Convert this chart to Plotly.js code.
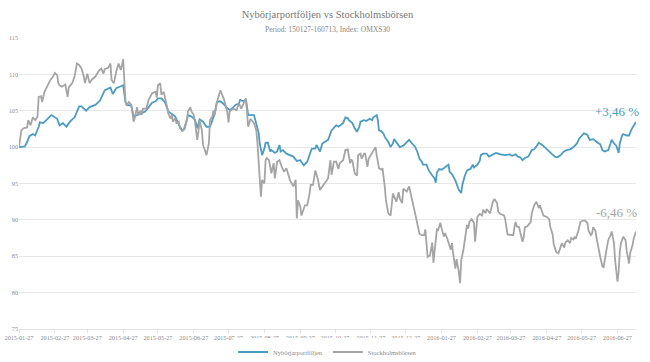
<!DOCTYPE html>
<html>
<head>
<meta charset="utf-8">
<script src="https://cdn.plot.ly/plotly-3.0.1.min.js"></script>
<style>html,body{margin:0;padding:0;background:#fff;}#chart{width:650px;height:362px;}</style>
</head>
<body>
<div id="chart"></div>
<script>
// ---- Data ----
const seriesNames = ['Nybörjarportföljen', 'Stockholmsbörsen'];
const endLabels = ['+3,46 %', '-6,46 %'];
const tickDates = [
'2015-01-27','2015-02-27','2015-03-27','2015-04-27','2015-05-27','2015-06-27','2015-07-27','2015-08-27','2015-09-27',
'2015-10-27','2015-11-27','2015-12-27','2016-01-27','2016-02-27','2016-03-27','2016-04-27','2016-05-27','2016-06-27'
];

const portfolioDates = [
'2015-01-27','2015-02-01','2015-02-03','2015-02-05','2015-02-08','2015-02-10','2015-02-13','2015-02-14','2015-02-17','2015-02-20',
'2015-02-24','2015-03-01','2015-03-03','2015-03-06','2015-03-09','2015-03-12','2015-03-16','2015-03-20','2015-03-22','2015-03-26',
'2015-03-29','2015-04-03','2015-04-07','2015-04-11','2015-04-16','2015-04-18','2015-04-21','2015-04-24','2015-04-27','2015-04-29',
'2015-04-30','2015-05-04','2015-05-06','2015-05-12','2015-05-16','2015-05-19','2015-05-22','2015-05-25','2015-05-27','2015-05-30',
'2015-06-02','2015-06-05','2015-06-08','2015-06-11','2015-06-15','2015-06-17','2015-06-19','2015-06-22','2015-06-25','2015-06-28',
'2015-06-30','2015-07-02','2015-07-05','2015-07-08','2015-07-11','2015-07-13','2015-07-15','2015-07-17','2015-07-20','2015-07-23',
'2015-07-25','2015-07-28','2015-07-30','2015-08-02','2015-08-05','2015-08-06','2015-08-09','2015-08-11','2015-08-13','2015-08-18',
'2015-08-20','2015-08-22','2015-08-23','2015-08-25','2015-08-27','2015-08-28','2015-08-30','2015-09-01','2015-09-02','2015-09-05',
'2015-09-07','2015-09-09','2015-09-10','2015-09-12','2015-09-15','2015-09-18','2015-09-21','2015-09-24','2015-09-27','2015-09-30',
'2015-10-03','2015-10-06','2015-10-07','2015-10-10','2015-10-11','2015-10-14','2015-10-16','2015-10-18','2015-10-21','2015-10-24',
'2015-10-26','2015-10-28','2015-10-30','2015-11-01','2015-11-03','2015-11-05','2015-11-07','2015-11-08','2015-11-10','2015-11-11',
'2015-11-13','2015-11-15','2015-11-17','2015-11-18','2015-11-21','2015-11-23','2015-11-26','2015-11-28','2015-11-29','2015-12-02',
'2015-12-03','2015-12-04','2015-12-06','2015-12-08','2015-12-09','2015-12-12','2015-12-14','2015-12-16','2015-12-17','2015-12-19',
'2015-12-22','2015-12-25','2015-12-27','2015-12-30','2016-01-01','2016-01-04','2016-01-06','2016-01-08','2016-01-10','2016-01-11',
'2016-01-14','2016-01-16','2016-01-19','2016-01-21','2016-01-22','2016-01-23','2016-01-25','2016-01-27','2016-01-29','2016-02-01',
'2016-02-02','2016-02-03','2016-02-05','2016-02-08','2016-02-10','2016-02-11','2016-02-13','2016-02-14','2016-02-16','2016-02-18',
'2016-02-21','2016-02-23','2016-02-24','2016-02-27','2016-02-29','2016-03-01','2016-03-03','2016-03-06','2016-03-08','2016-03-11',
'2016-03-14','2016-03-18','2016-03-22','2016-03-26','2016-03-28','2016-03-31','2016-04-02','2016-04-04','2016-04-06','2016-04-08',
'2016-04-11','2016-04-14','2016-04-16','2016-04-18','2016-04-20','2016-04-23','2016-04-26','2016-04-28','2016-05-01','2016-05-04',
'2016-05-06','2016-05-09','2016-05-11','2016-05-14','2016-05-17','2016-05-20','2016-05-23','2016-05-25','2016-05-27','2016-05-29',
'2016-06-01','2016-06-03','2016-06-06','2016-06-08','2016-06-10','2016-06-12','2016-06-14','2016-06-16','2016-06-19','2016-06-21',
'2016-06-22','2016-06-24','2016-06-26','2016-06-28','2016-06-29','2016-07-01','2016-07-02','2016-07-05','2016-07-07','2016-07-09',
'2016-07-12','2016-07-13'
];
const portfolioValues = [
100.0,100.1,100.7,101.5,101.8,101.6,102.8,103.4,103.3,103.8,
104.4,103.9,103.0,103.3,102.8,103.5,104.1,105.6,105.6,105.0,
105.5,105.8,106.4,107.8,108.2,107.3,108.1,108.3,108.5,106.2,
105.8,105.7,104.2,104.6,104.9,105.5,106.1,106.3,106.7,106.7,
106.2,104.9,104.6,104.2,102.8,102.3,102.5,104.4,104.2,103.8,
102.6,103.8,103.5,102.8,102.8,103.7,104.6,106.2,106.3,105.9,
105.5,105.1,105.3,105.8,106.0,106.5,106.3,106.6,104.4,104.4,
103.3,102.0,100.5,98.9,99.8,100.6,100.6,99.4,99.6,99.2,
99.4,100.3,99.4,99.6,99.1,98.9,98.7,98.1,98.2,97.5,
98.0,99.4,99.8,99.8,100.3,99.4,100.5,100.7,101.0,102.3,
102.6,103.0,102.8,103.1,103.3,104.1,104.0,103.7,103.4,103.3,
102.6,102.1,102.8,103.5,103.7,103.6,103.9,103.7,104.1,104.4,
103.7,102.3,102.2,101.8,101.4,100.7,100.0,100.5,101.1,100.7,
100.0,100.2,100.5,101.0,100.6,100.1,99.4,98.4,98.0,97.6,
97.6,96.8,96.1,95.7,95.1,96.5,97.0,96.9,97.1,97.4,
97.6,96.6,96.3,95.4,94.5,94.1,93.7,94.8,96.0,96.8,
97.0,97.6,97.2,97.6,98.1,98.9,99.1,99.1,98.7,98.9,
99.2,99.0,98.9,99.0,98.8,99.0,98.7,98.6,98.2,98.5,
98.7,99.6,99.7,100.1,100.6,100.3,99.8,99.6,99.1,98.7,
98.6,98.9,99.3,99.6,99.7,100.0,100.5,101.2,101.5,101.9,
101.7,101.0,101.1,100.8,100.6,100.4,99.6,99.4,99.6,100.5,
101.0,100.5,100.2,99.2,100.5,101.6,101.8,101.6,101.6,102.4,
103.3,103.46
];

const indexDates = [
'2015-01-27','2015-01-29','2015-01-31','2015-02-03','2015-02-04','2015-02-06','2015-02-08','2015-02-10','2015-02-12','2015-02-13',
'2015-02-15','2015-02-16','2015-02-18','2015-02-20','2015-02-23','2015-02-25','2015-02-27','2015-03-01','2015-03-02','2015-03-03',
'2015-03-05','2015-03-08','2015-03-10','2015-03-11','2015-03-14','2015-03-16','2015-03-18','2015-03-20','2015-03-22','2015-03-24',
'2015-03-25','2015-03-27','2015-03-29','2015-03-31','2015-04-03','2015-04-06','2015-04-08','2015-04-10','2015-04-11','2015-04-14',
'2015-04-16','2015-04-17','2015-04-19','2015-04-21','2015-04-23','2015-04-25','2015-04-27','2015-04-29','2015-04-30','2015-05-02',
'2015-05-03','2015-05-04','2015-05-06','2015-05-07','2015-05-09','2015-05-10','2015-05-12','2015-05-13','2015-05-14','2015-05-17',
'2015-05-19','2015-05-22','2015-05-25','2015-05-26','2015-05-27','2015-05-29','2015-05-30','2015-06-01','2015-06-04','2015-06-05',
'2015-06-07','2015-06-08','2015-06-09','2015-06-11','2015-06-12','2015-06-14','2015-06-15','2015-06-17','2015-06-18','2015-06-20',
'2015-06-21','2015-06-22','2015-06-24','2015-06-25','2015-06-27','2015-06-28','2015-06-30','2015-07-01','2015-07-02','2015-07-04',
'2015-07-05','2015-07-08','2015-07-10','2015-07-11','2015-07-13','2015-07-14','2015-07-15','2015-07-17','2015-07-20','2015-07-21',
'2015-07-23','2015-07-26','2015-07-27','2015-07-28','2015-07-31','2015-08-03','2015-08-05','2015-08-07','2015-08-10','2015-08-11',
'2015-08-13','2015-08-15','2015-08-18','2015-08-20','2015-08-21','2015-08-23','2015-08-24','2015-08-25','2015-08-27','2015-08-28',
'2015-08-29','2015-08-31','2015-09-02','2015-09-04','2015-09-05','2015-09-07','2015-09-09','2015-09-11','2015-09-13','2015-09-15',
'2015-09-18','2015-09-21','2015-09-23','2015-09-24','2015-09-25','2015-09-27','2015-09-28','2015-10-01','2015-10-03','2015-10-05',
'2015-10-06','2015-10-08','2015-10-10','2015-10-12','2015-10-14','2015-10-16','2015-10-18','2015-10-21','2015-10-23','2015-10-24',
'2015-10-26','2015-10-28','2015-10-30','2015-10-31','2015-11-03','2015-11-05','2015-11-07','2015-11-09','2015-11-10','2015-11-11',
'2015-11-13','2015-11-15','2015-11-16','2015-11-18','2015-11-19','2015-11-21','2015-11-22','2015-11-24','2015-11-25','2015-11-27',
'2015-11-29','2015-12-01','2015-12-02','2015-12-04','2015-12-06','2015-12-07','2015-12-09','2015-12-10','2015-12-12','2015-12-14',
'2015-12-16','2015-12-18','2015-12-19','2015-12-21','2015-12-22','2015-12-24','2015-12-25','2015-12-28','2015-12-30','2015-12-31',
'2016-01-02','2016-01-04','2016-01-06','2016-01-08','2016-01-10','2016-01-12','2016-01-13','2016-01-15','2016-01-17','2016-01-19',
'2016-01-20','2016-01-22','2016-01-23','2016-01-24','2016-01-26','2016-01-27','2016-01-29','2016-01-30','2016-02-01','2016-02-04',
'2016-02-05','2016-02-06','2016-02-08','2016-02-09','2016-02-11','2016-02-12','2016-02-13','2016-02-15','2016-02-16','2016-02-18',
'2016-02-19','2016-02-20','2016-02-22','2016-02-24','2016-02-25','2016-02-26','2016-02-27','2016-02-29','2016-03-02','2016-03-03',
'2016-03-05','2016-03-06','2016-03-08','2016-03-09','2016-03-11','2016-03-12','2016-03-13','2016-03-15','2016-03-16','2016-03-18',
'2016-03-21','2016-03-22','2016-03-24','2016-03-26','2016-03-29','2016-03-30','2016-03-31','2016-04-01','2016-04-03','2016-04-04',
'2016-04-06','2016-04-07','2016-04-08','2016-04-10','2016-04-13','2016-04-14','2016-04-16','2016-04-18','2016-04-20','2016-04-21',
'2016-04-23','2016-04-24','2016-04-27','2016-04-29','2016-04-30','2016-05-02','2016-05-03','2016-05-05','2016-05-07','2016-05-09',
'2016-05-10','2016-05-12','2016-05-13','2016-05-15','2016-05-17','2016-05-18','2016-05-20','2016-05-21','2016-05-22','2016-05-24',
'2016-05-26','2016-05-28','2016-05-30','2016-06-01','2016-06-02','2016-06-04','2016-06-05','2016-06-06','2016-06-08','2016-06-09',
'2016-06-11','2016-06-12','2016-06-14','2016-06-15','2016-06-17','2016-06-18','2016-06-19','2016-06-21','2016-06-22','2016-06-24',
'2016-06-25','2016-06-27','2016-06-28','2016-06-29','2016-06-30','2016-07-02','2016-07-04','2016-07-05','2016-07-07','2016-07-08',
'2016-07-10','2016-07-11','2016-07-13'
];
const indexValues = [
100.0,102.3,102.6,102.7,103.7,103.0,104.1,103.7,104.2,106.9,
107.0,106.2,107.6,108.3,109.2,109.6,110.2,109.9,108.8,108.5,
108.3,108.6,106.9,108.2,108.8,109.7,111.5,111.3,110.8,109.7,
108.8,110.1,108.8,109.3,109.7,110.5,110.8,110.1,110.7,110.9,
111.5,109.2,108.8,110.4,111.5,110.6,112.1,106.2,105.8,106.2,
106.0,105.8,103.5,104.0,105.5,104.4,105.0,104.4,105.3,105.3,
106.5,107.4,107.6,106.8,108.5,108.8,107.2,107.6,105.5,104.6,
103.9,104.4,103.5,104.0,103.3,103.5,102.6,102.2,102.3,103.3,
103.7,104.9,105.5,104.9,104.4,103.5,101.0,102.1,103.7,102.3,
100.3,98.9,100.5,103.7,104.2,105.0,104.4,106.2,107.8,107.4,
106.6,104.8,103.4,104.9,105.3,105.1,106.0,105.3,106.5,106.7,
102.8,103.9,103.3,102.3,100.5,96.4,93.2,95.5,95.0,98.2,
98.5,98.2,96.4,97.8,95.7,98.0,98.2,97.3,96.6,97.1,
95.5,94.6,95.5,90.2,92.7,91.8,90.6,92.0,92.0,93.6,
94.8,94.8,96.8,95.7,94.1,94.6,95.0,95.7,98.2,96.2,
98.0,98.0,97.0,97.8,98.2,99.6,99.7,97.8,98.3,98.1,
96.4,96.1,98.9,99.1,98.4,99.1,99.1,97.3,98.4,98.9,
99.5,100.0,98.9,97.1,96.9,97.1,94.5,92.7,90.9,90.6,
93.6,92.9,92.5,93.8,92.9,92.3,94.3,93.9,94.6,93.9,
92.5,91.2,89.5,88.1,87.9,87.9,88.7,84.9,85.1,86.9,
84.1,87.5,88.7,88.6,89.6,88.9,87.7,88.2,87.4,85.9,
86.8,85.4,83.3,84.6,82.8,81.3,84.4,86.0,87.0,89.3,
88.8,89.7,90.1,89.6,87.0,89.0,90.4,90.8,90.6,91.4,
90.9,91.5,91.0,90.9,92.3,92.7,92.8,92.3,91.1,90.8,
90.6,90.1,88.0,88.0,87.9,89.0,89.7,89.1,89.0,88.3,
87.0,87.6,89.0,89.1,89.7,90.9,92.0,92.5,91.6,92.0,
91.0,90.6,90.4,90.1,89.0,88.0,86.6,85.6,85.4,86.3,
86.8,86.2,86.9,87.2,86.8,87.5,87.3,87.7,87.4,88.4,
89.7,89.9,89.9,89.6,88.5,87.9,88.1,89.0,88.5,87.4,
85.6,85.0,83.6,83.5,85.4,86.4,87.2,87.9,88.4,86.8,
84.4,81.5,82.8,85.6,86.8,87.7,87.2,85.7,84.0,85.5,
86.5,87.4,88.4
];

// ---- Styling ----
const FONT = 'Liberation Serif, Times New Roman, serif';
const BLUE = '#4b9cc2';
const GREY = '#a5a5a5';

const traces = [
  {x: portfolioDates, y: portfolioValues, name: seriesNames[0], type: 'scatter', mode: 'lines',
   line: {color: BLUE, width: 1.8}},
  {x: indexDates, y: indexValues, name: seriesNames[1], type: 'scatter', mode: 'lines',
   line: {color: GREY, width: 1.8}}
];

const lastP = portfolioDates.length - 1;
const lastI = indexDates.length - 1;

const layout = {
  width: 650, height: 362,
  paper_bgcolor: '#fff', plot_bgcolor: '#fff',
  margin: {l: 19, r: 14, t: 38, b: 33, autoexpand: false},
  font: {family: FONT, color: '#888'},
  title: {
    text: 'Nybörjarportföljen vs Stockholmsbörsen<br><span style="font-size:7.5px;color:#888">Period: 150127-160713, Index: OMXS30</span>',
    font: {family: FONT, size: 10.5, color: '#777'},
    x: 0.5, xanchor: 'center', xref: 'paper',
    y: 1 - 18/362, yref: 'container', yanchor: 'top'
  },
  showlegend: true,
  legend: {orientation: 'h', x: 0.5, xanchor: 'center', xref: 'paper',
           y: 10/362, yref: 'container', yanchor: 'middle',
           font: {family: FONT, size: 6.5, color: '#888'}, itemwidth: 30, tracegroupgap: 0},
  xaxis: {
    type: 'date',
    range: ['2015-01-27', '2016-07-13'],
    tickmode: 'array', tickvals: tickDates, ticktext: tickDates,
    showgrid: false, zeroline: false,
    showline: true, linecolor: '#e3e3e3', linewidth: 1,
    ticks: 'outside', ticklen: 3, tickcolor: '#e3e3e3',
    tickfont: {family: FONT, size: 6.2, color: '#8a8a8a'},
    fixedrange: true
  },
  yaxis: {
    range: [75, 115], dtick: 5, tick0: 75,
    showgrid: true, gridcolor: '#e8e8e8', gridwidth: 1,
    zeroline: false, showline: false, ticks: '',
    tickfont: {family: FONT, size: 6.2, color: '#8a8a8a'},
    fixedrange: true
  },
  annotations: [
    {x: portfolioDates[lastP], y: portfolioValues[lastP], xref: 'x', yref: 'y',
     text: endLabels[0], showarrow: false, xanchor: 'right', yanchor: 'bottom',
     xshift: 5, yshift: 1, font: {family: FONT, size: 13, color: BLUE}},
    {x: indexDates[lastI], y: indexValues[lastI], xref: 'x', yref: 'y',
     text: endLabels[1], showarrow: false, xanchor: 'right', yanchor: 'bottom',
     xshift: 3, yshift: 10, font: {family: FONT, size: 13, color: GREY}}
  ]
};

Plotly.newPlot('chart', traces, layout, {displayModeBar: false, staticPlot: true});
</script>
</body>
</html>
